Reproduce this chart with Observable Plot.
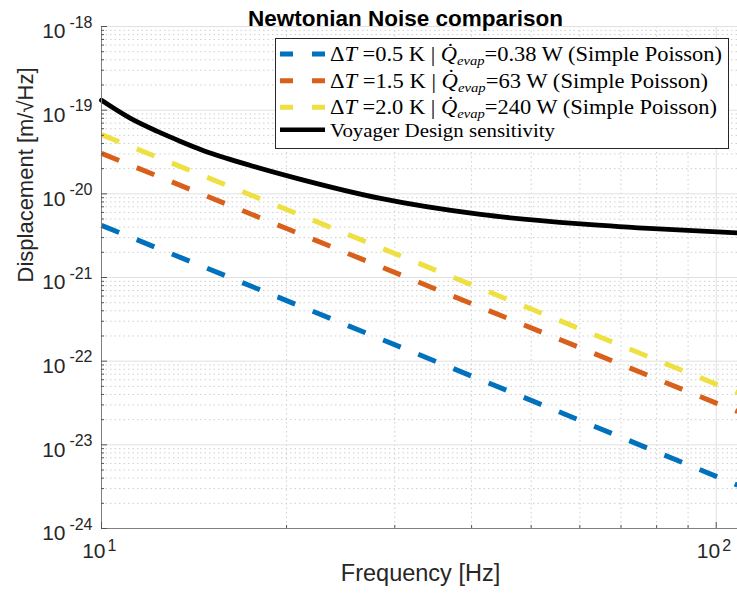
<!DOCTYPE html>
<html><head><meta charset="utf-8">
<script src="https://cdn.jsdelivr.net/npm/d3@7"></script>
<script src="https://cdn.jsdelivr.net/npm/@observablehq/plot@0.6"></script>
<style>body{margin:0;background:#fff} #chart{width:737px;height:605px;overflow:hidden}</style>
</head><body><div id="chart"></div>
<script>
// ---- data ----
const dashedFreq = [10, 20, 50, 100, 108.3];
const nnDT05 = [4.2e-21, 5.3e-22, 3.4e-23, 4.2e-24, 3.3e-24];
const nnDT15 = [3.05e-20, 3.85e-21, 2.5e-22, 3.15e-23, 2.5e-23];
const nnDT20 = [5.1e-20, 6.5e-21, 4.2e-22, 5.3e-23, 4.2e-23];
const voyagerFreq = [10, 11.15, 12.33, 13.45, 14.49, 17.48, 21.08, 28.44, 41.36, 60.15, 77.62, 108.3];
const voyagerASD = [1.31e-19, 7.96e-20, 5.57e-20, 4.23e-20, 3.39e-20, 2.18e-20, 1.49e-20, 8.81e-21, 5.67e-21, 4.37e-21, 3.86e-21, 3.41e-21];
const legendDeltaT = ["0.5", "1.5", "2.0"];
const legendQevap = ["0.38", "63", "240"];
const seriesColors = ["#0072BD", "#D9601A", "#EDE040"];
const yMajorTicks = [1e-24, 1e-23, 1e-22, 1e-21, 1e-20, 1e-19, 1e-18];
const xMajorTicks = [10, 100];
const minorMultipliers = [2, 3, 4, 5, 6, 7, 8, 9];
const yMinorTicks = yMajorTicks.slice(0, -1).flatMap(d => minorMultipliers.map(m => m * d));
const xMinorTicks = minorMultipliers.map(m => m * 10);

const dashedSeries = [nnDT05, nnDT15, nnDT20];
const lineData = dashedSeries.map((vals, k) => dashedFreq.map((f, i) => ({f, v: vals[i], k})));
const voyager = voyagerFreq.map((f, i) => ({f, v: voyagerASD[i]}));

const txt = "#262626";
const font = "'Liberation Sans', Arial, Helvetica, sans-serif";

const plot = Plot.plot({
  width: 737, height: 605,
  marginLeft: 101, marginRight: 0, marginTop: 26, marginBottom: 77,
  x: {type: "log", domain: [10, 108.3], axis: null},
  y: {type: "log", domain: [1e-24, 1e-18], axis: null},
  style: {fontFamily: font, background: "white", color: txt},
  marks: [
    Plot.ruleY(yMinorTicks, {stroke: "#cfcfcf", strokeDasharray: "1.5,3"}),
    Plot.ruleX(xMinorTicks, {stroke: "#cfcfcf", strokeDasharray: "1.5,3"}),
    Plot.ruleY(yMajorTicks, {stroke: "#e0e0e0"}),
    Plot.ruleX(xMajorTicks, {stroke: "#e0e0e0"}),
    ...lineData.map((d, k) => Plot.line(d, {x: "f", y: "v", stroke: seriesColors[k], strokeWidth: 5, strokeDasharray: "19,19", strokeLinecap: "butt"})),
    Plot.line(voyager, {x: "f", y: "v", stroke: "black", strokeWidth: 4.8, curve: "monotone-x"}),
    Plot.ruleX([10], {stroke: "#808080"}),
    Plot.ruleY([1e-24], {stroke: "#808080"}),
    Plot.axisY({ticks: yMinorTicks, tickSize: -3, tickFormat: () => "", label: null, stroke: "#555"}),
    Plot.axisY({ticks: yMajorTicks, tickSize: -6, tickFormat: () => "", label: null, stroke: "#555"}),
    Plot.axisX({ticks: xMinorTicks, tickSize: -3, tickFormat: () => "", label: null, stroke: "#555"}),
    Plot.axisX({ticks: xMajorTicks, tickSize: -6, tickFormat: () => "", label: null, stroke: "#555"}),
    Plot.text(yMajorTicks, {y: d => d, frameAnchor: "left", text: () => "10", textAnchor: "end", dx: -36, dy: 5, fontSize: 21, fill: txt}),
    Plot.text(yMajorTicks, {y: d => d, frameAnchor: "left", text: d => String(Math.round(Math.log10(d))), textAnchor: "end", dx: -9, dy: -4, fontSize: 16, fill: txt}),
    Plot.text(xMajorTicks, {x: d => d, frameAnchor: "bottom", text: () => "10", textAnchor: "end", dx: 4, dy: 29, fontSize: 21, fill: txt}),
    Plot.text(xMajorTicks, {x: d => d, frameAnchor: "bottom", text: d => String(Math.round(Math.log10(d))), textAnchor: "start", dx: 6, dy: 22, fontSize: 16, fill: txt}),
    Plot.text(["Newtonian Noise comparison"], {frameAnchor: "top", dx: -14, dy: -16, fontSize: 22.5, fontWeight: "bold", fill: "black"}),
    Plot.text(["Frequency [Hz]"], {frameAnchor: "bottom", dx: 1, dy: 52, fontSize: 23.5, fill: txt}),
    Plot.text(["Displacement [m/\u221AHz]"], {frameAnchor: "left", rotate: -90, dx: -76, dy: 5, fontSize: 22, fill: txt})
  ]
});
document.getElementById("chart").append(plot);

// ---- legend ----
const svg = d3.select(plot);
const lg = svg.append("g").attr("font-family", "'Liberation Serif', 'Times New Roman', serif")
  .attr("fill", "black").attr("text-anchor", "start");
lg.append("rect").attr("x", 275.5).attr("y", 38.5).attr("width", 453).attr("height", 110)
  .attr("fill", "white").attr("stroke", "#262626").attr("stroke-width", 1);
const rowCenters = [54, 80.7, 107.3, 129.8];
const rowWidths = [392, 378, 387, 225];
const rowSizes = [20, 20, 20, 18.5];
function addRow(i, parts, color, dashed) {
  lg.append("line").attr("x1", 280).attr("x2", 325).attr("y1", rowCenters[i]).attr("y2", rowCenters[i])
    .attr("stroke", color).attr("stroke-width", dashed ? 5 : 4.5).attr("stroke-dasharray", dashed ? "13,19" : null);
  const t = lg.append("text").attr("x", 330).attr("y", rowCenters[i] + 7).attr("font-size", rowSizes[i])
    .attr("textLength", rowWidths[i]).attr("lengthAdjust", "spacingAndGlyphs");
  parts.forEach(p => {
    const s = t.append("tspan").text(p.t);
    if (p.i) s.attr("font-style", "italic");
    if (p.sub) s.attr("font-size", 13).attr("dy", 4);
    if (p.up) s.attr("dy", -4);
  });
}
legendDeltaT.forEach((dt, i) => {
  addRow(i, [
    {t: "\u0394"}, {t: "T", i: 1}, {t: " =" + dt + " K | "}, {t: "Q\u0307", i: 1},
    {t: "evap", i: 1, sub: 1}, {t: "=" + legendQevap[i] + " W (Simple Poisson)", up: 1}
  ], seriesColors[i], true);
});
addRow(3, [{t: "Voyager Design sensitivity"}], "black", false);
</script></body></html>
